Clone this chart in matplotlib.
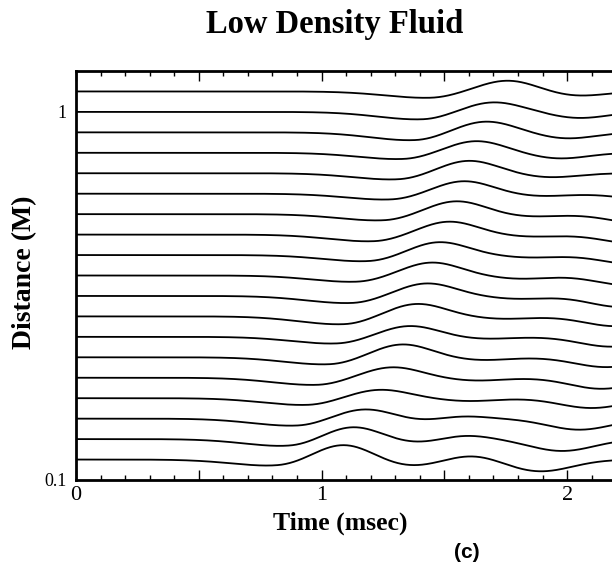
import numpy as np
import matplotlib.pyplot as plt

# source-receiver distances (M), one trace each, listed top to bottom
distances = [1.05, 1.00, 0.95, 0.90, 0.85, 0.80, 0.75, 0.70, 0.65, 0.60,
             0.55, 0.50, 0.45, 0.40, 0.35, 0.30, 0.25, 0.20, 0.15]

# leading trough before the main arrival: time (msec), depth (M)
lead_t = [1.44, 1.41, 1.38, 1.33, 1.31, 1.28, 1.25, 1.21, 1.19, 1.14,
          1.12, 1.09, 1.06, 1.03, 0.98, 0.94, 0.90, 0.87, 0.82]
lead_a = [0.016, 0.019, 0.020, 0.016, 0.016, 0.015, 0.016, 0.017, 0.016, 0.016,
          0.018, 0.020, 0.017, 0.018, 0.018, 0.017, 0.018, 0.018, 0.016]

# main arrival peak
peak_t = [1.76, 1.70, 1.67, 1.63, 1.60, 1.58, 1.55, 1.52, 1.48, 1.45,
          1.43, 1.39, 1.36, 1.33, 1.29, 1.24, 1.18, 1.13, 1.09]
peak_a = [0.027, 0.024, 0.027, 0.029, 0.031, 0.031, 0.032, 0.032, 0.032, 0.032,
          0.031, 0.031, 0.027, 0.032, 0.026, 0.021, 0.024, 0.031, 0.037]

# trough following the main peak
trough_t = [2.04, 2.05, 2.00, 1.97, 1.93, 1.89, 1.85, 1.85, 1.85, 1.81,
            1.80, 1.74, 1.66, 1.65, 1.63, 1.60, 1.42, 1.38, 1.36]
trough_a = [0.011, 0.015, 0.015, 0.014, 0.010, 0.006, 0.006, 0.005, 0.006, 0.008,
            0.007, 0.006, 0.005, 0.007, 0.007, 0.007, 0.007, 0.010, 0.016]

# second (slower) arrival: peak then trough
late_peak_t = [0, 0, 0, 0, 0, 0, 0, 0, 0, 0,
               0, 0, 0, 0, 0, 0, 1.56, 1.58, 1.62]
late_peak_a = [0, 0, 0, 0, 0, 0, 0, 0, 0, 0,
               0, 0, 0, 0, 0, 0, 0.008, 0.010, 0.012]
late_trough_t = [0, 0, 0, 0, 0, 2.35, 2.30, 2.28, 2.27, 2.25,
                 2.22, 2.20, 2.18, 2.16, 2.14, 2.10, 2.05, 1.98, 1.89]
late_trough_a = [0, 0, 0, 0, 0, 0.015, 0.022, 0.022, 0.022, 0.024,
                 0.027, 0.024, 0.024, 0.024, 0.027, 0.024, 0.027, 0.029, 0.029]

serif = 'Liberation Serif'


def lobe(t, t0, a, s_left, s_right=None):
    # gaussian pulse, optionally wider on its leading side
    if s_right is None:
        s_right = s_left
    s = np.where(t < t0, s_left, s_right)
    return a * np.exp(-0.5 * ((t - t0) / s) ** 2)


def trace(t, i):
    w = np.zeros_like(t)
    w -= lobe(t, lead_t[i], lead_a[i], 0.18, 0.11)
    w += lobe(t, peak_t[i], peak_a[i], 0.115)
    w -= lobe(t, trough_t[i], trough_a[i], 0.115)
    w += lobe(t, late_peak_t[i], late_peak_a[i], 0.10)
    w -= lobe(t, late_trough_t[i], late_trough_a[i], 0.13)
    return w


fig = plt.figure(figsize=(6.12, 5.67), dpi=100)
ax = fig.add_axes([76 / 612, 87 / 567, 536 / 612, 409 / 567])

t = np.linspace(0, 2.2, 800)
for i, d in enumerate(distances):
    ax.plot(t, d + trace(t, i), color='black', lw=1.3)

ax.set_xlim(0, 2.183)
ax.set_ylim(0.1, 1.1)

# time axis: labels on whole msec, longer marks on half msec, small marks every 0.1
ax.set_xticks([0, 0.5, 1, 1.5, 2], labels=['0', '', '1', '', '2'])
ax.set_xticks(np.arange(0, 2.2, 0.1), minor=True)
ax.tick_params(axis='x', which='both', direction='in', top=True, bottom=True,
               width=1.0, labelsize=16, pad=4)
ax.tick_params(axis='x', which='major', length=7)
ax.tick_params(axis='x', which='minor', length=3.5)
for lab in ax.get_xticklabels():
    lab.set_family(serif)

ax.set_yticks([0.1, 1.0], labels=['0.1', '1'])
ax.tick_params(axis='y', which='both', length=0, labelsize=13, pad=7)
for lab in ax.get_yticklabels():
    lab.set_family(serif)

for side in ['left', 'bottom', 'top']:
    ax.spines[side].set_linewidth(2.0)
ax.spines['right'].set_visible(False)

fig.text(335 / 612, 1 - 33 / 567, 'Low Density Fluid', family=serif,
         weight='bold', fontsize=23.5, ha='center', va='baseline')
fig.text(340 / 612, 1 - 523 / 567, 'Time (msec)', family=serif,
         weight='bold', fontsize=18.5, ha='center', va='center')
fig.text(25 / 612, 1 - 272 / 567, 'Distance (M)', family=serif,
         weight='bold', fontsize=20, rotation=90, ha='center', va='center')
fig.text(467 / 612, 1 - 553 / 567, '(c)', family='Liberation Sans',
         weight='bold', fontsize=15, ha='center', va='center')

fig.savefig('out.png', dpi=100)
